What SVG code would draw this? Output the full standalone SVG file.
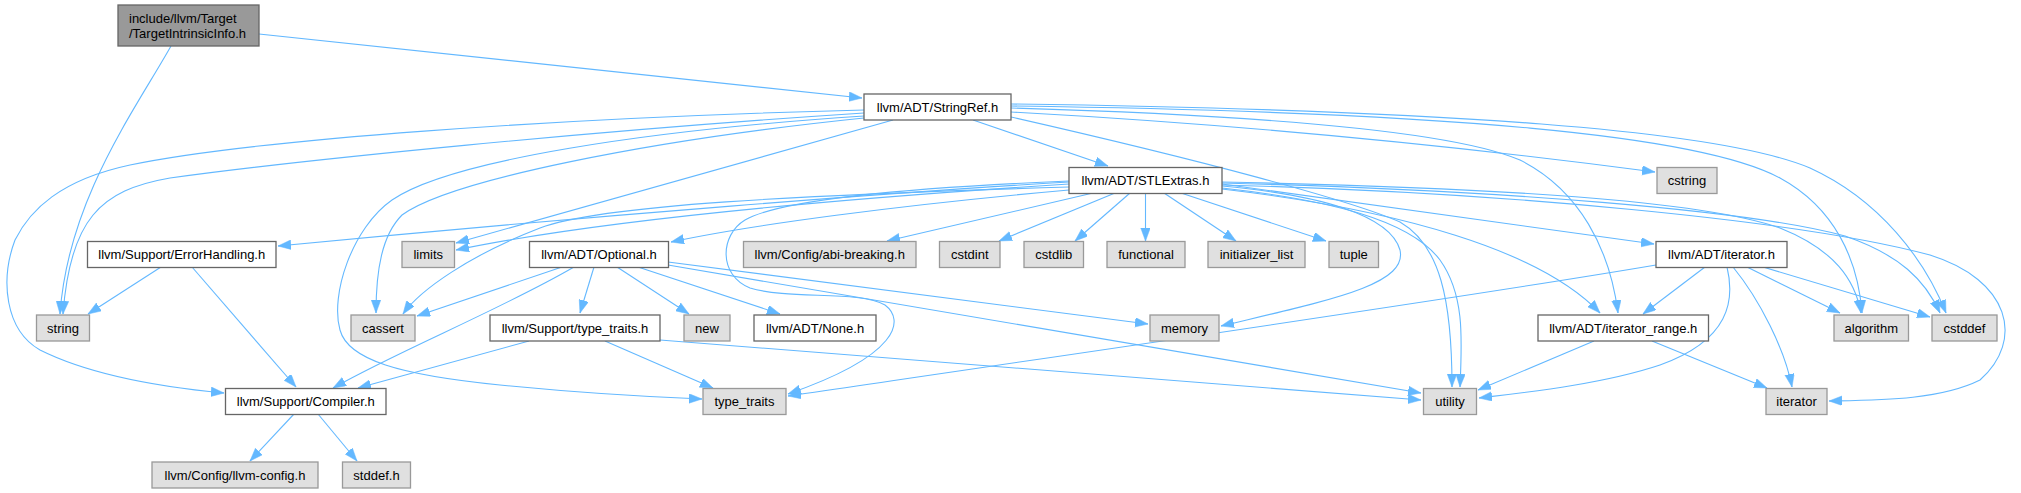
<svg xmlns="http://www.w3.org/2000/svg" width="2021" height="493" viewBox="0 0 2021 493">
<style>
.e{fill:none;stroke:#63b8ff;stroke-width:1.1;marker-end:url(#ah)}
.n rect{stroke-width:1.3}
.w rect{fill:#ffffff;stroke:#666666}
.g rect{fill:#e0e0e0;stroke:#999999}
.r rect{fill:#999999;stroke:#666666}
text{font-family:"Liberation Sans",Arial,Helvetica,sans-serif;font-size:13px;fill:#000000}
.c{text-anchor:middle}
</style>
<defs>
<marker id="ah" markerUnits="userSpaceOnUse" markerWidth="13" markerHeight="10" refX="13" refY="4.75" orient="auto">
<path d="M0,0 L13,4.75 L0,9.5 z" fill="#63b8ff" stroke="#63b8ff" stroke-width="0.5"/>
</marker>
</defs>
<rect width="2021" height="493" fill="#ffffff"/>
<g id="edges">
<path class="e" d="M259,34 L862,98"/>
<path class="e" d="M171,46 C135,110 68,200 60,314"/>
<path class="e" d="M864,113 C600,130 300,160 170,178 C100,190 70,220 63,314"/>
<path class="e" d="M864,110 C550,118 250,140 130,165 C60,180 30,210 15,240 C0,280 5,330 40,350 C90,375 160,387 224,393"/>
<path class="e" d="M864,116 C650,130 450,160 392,200 C352,228 330,295 340,330 C348,360 400,375 500,385 C580,393 650,397 702,399"/>
<path class="e" d="M864,118 C650,140 450,180 402,215 C382,235 376,270 376,313"/>
<path class="e" d="M893,120 L456,243"/>
<path class="e" d="M973,120 L1108,166"/>
<path class="e" d="M1011,112 C1250,125 1450,145 1655,172"/>
<path class="e" d="M1011,108 C1250,115 1450,130 1520,160 C1580,190 1610,250 1618,313"/>
<path class="e" d="M1011,117 C1200,160 1350,200 1400,222 C1440,245 1452,300 1452,387"/>
<path class="e" d="M1011,106 C1450,112 1700,135 1780,178 C1835,208 1858,260 1862,313"/>
<path class="e" d="M1011,104 C1450,110 1720,130 1810,168 C1880,200 1925,260 1946,313"/>
<path class="e" d="M1069,182 C900,192 600,215 278,246"/>
<path class="e" d="M1069,184 C850,198 600,220 456,250"/>
<path class="e" d="M1069,187 C800,195 600,205 540,228 C470,255 420,290 403,314"/>
<path class="e" d="M1069,190 C900,205 750,225 671,242"/>
<path class="e" d="M1093,193 L887,241"/>
<path class="e" d="M1115,193 L999,241"/>
<path class="e" d="M1130,193 L1075,241"/>
<path class="e" d="M1145.5,193 L1145.5,241"/>
<path class="e" d="M1164,193 L1236,241"/>
<path class="e" d="M1181,193 L1326,241"/>
<path class="e" d="M1069,181 C900,188 780,200 745,220 C720,235 718,275 750,288 C790,300 860,290 885,305 C905,320 900,355 788,394"/>
<path class="e" d="M1222,186 C1320,195 1390,215 1400,250 C1408,285 1330,300 1221,326"/>
<path class="e" d="M1222,188 C1330,200 1410,220 1440,260 C1465,295 1462,340 1460,387"/>
<path class="e" d="M1222,184 L1654,244"/>
<path class="e" d="M1222,189 C1400,210 1540,250 1600,313"/>
<path class="e" d="M1222,182 C1500,188 1700,200 1780,228 C1835,250 1855,280 1861,313"/>
<path class="e" d="M1222,183 C1500,190 1750,210 1845,236 C1900,255 1925,280 1940,313"/>
<path class="e" d="M1222,185 C1500,192 1800,220 1930,255 C2010,280 2025,340 1980,380 C1940,400 1880,400 1829,401"/>
<path class="e" d="M562,267 L417,316"/>
<path class="e" d="M574,267 C500,310 400,350 333,388"/>
<path class="e" d="M594,267 L580,313"/>
<path class="e" d="M617,267 L689,314"/>
<path class="e" d="M638,267 L780,314"/>
<path class="e" d="M668,262 L1148,324"/>
<path class="e" d="M668,265 L1421,393"/>
<path class="e" d="M529,341 L358,388"/>
<path class="e" d="M605,341 L713,388"/>
<path class="e" d="M660,340 L1421,400"/>
<path class="e" d="M161,267 L88,314"/>
<path class="e" d="M192,267 L296,387"/>
<path class="e" d="M294,414 L250,461"/>
<path class="e" d="M318,414 L357,461"/>
<path class="e" d="M1656,265 C1450,300 1100,350 788,396"/>
<path class="e" d="M1705,267 L1643,314"/>
<path class="e" d="M1727,267 C1735,300 1730,340 1660,365 C1600,385 1520,393 1479,398"/>
<path class="e" d="M1733,267 C1760,300 1785,350 1792,387"/>
<path class="e" d="M1747,267 L1840,313"/>
<path class="e" d="M1763,267 L1930,317"/>
<path class="e" d="M1594,341 L1478,390"/>
<path class="e" d="M1652,341 L1767,388"/>
</g>
<g id="n_tii" class="n r"><rect x="118" y="5" width="141" height="41"/><text x="129" y="23">include/llvm/Target</text><text x="129" y="38">/TargetIntrinsicInfo.h</text></g>
<g id="n_stringref" class="n w"><rect x="864" y="94" width="147" height="26"/><text class="c" x="937.5" y="111.8">llvm/ADT/StringRef.h</text></g>
<g id="n_stlextras" class="n w"><rect x="1069" y="167.5" width="153" height="26"/><text class="c" x="1145.5" y="185.3">llvm/ADT/STLExtras.h</text></g>
<g id="n_cstring" class="n g"><rect x="1657" y="167.5" width="60" height="26"/><text class="c" x="1687" y="185.3">cstring</text></g>
<g id="n_errorhandling" class="n w"><rect x="87.5" y="241.5" width="188.5" height="26"/><text class="c" x="181.75" y="259.3">llvm/Support/ErrorHandling.h</text></g>
<g id="n_limits" class="n g"><rect x="402" y="241.5" width="52.5" height="26"/><text class="c" x="428.25" y="259.3">limits</text></g>
<g id="n_optional" class="n w"><rect x="529.5" y="241.5" width="139" height="26"/><text class="c" x="599" y="259.3">llvm/ADT/Optional.h</text></g>
<g id="n_abibreaking" class="n g"><rect x="743.5" y="241.5" width="172.5" height="26"/><text class="c" x="829.75" y="259.3">llvm/Config/abi-breaking.h</text></g>
<g id="n_cstdint" class="n g"><rect x="939.5" y="241.5" width="60.5" height="26"/><text class="c" x="969.75" y="259.3">cstdint</text></g>
<g id="n_cstdlib" class="n g"><rect x="1024" y="241.5" width="59.5" height="26"/><text class="c" x="1053.75" y="259.3">cstdlib</text></g>
<g id="n_functional" class="n g"><rect x="1107" y="241.5" width="78" height="26"/><text class="c" x="1146" y="259.3">functional</text></g>
<g id="n_initlist" class="n g"><rect x="1208" y="241.5" width="97" height="26"/><text class="c" x="1256.5" y="259.3">initializer_list</text></g>
<g id="n_tuple" class="n g"><rect x="1329" y="241.5" width="49.5" height="26"/><text class="c" x="1353.75" y="259.3">tuple</text></g>
<g id="n_iteratorh" class="n w"><rect x="1656" y="241.5" width="131" height="26"/><text class="c" x="1721.5" y="259.3">llvm/ADT/iterator.h</text></g>
<g id="n_string" class="n g"><rect x="36.5" y="315" width="53" height="26"/><text class="c" x="63" y="332.8">string</text></g>
<g id="n_cassert" class="n g"><rect x="351" y="315" width="64" height="26"/><text class="c" x="383" y="332.8">cassert</text></g>
<g id="n_supporttypetraits" class="n w"><rect x="490" y="315" width="170" height="26"/><text class="c" x="575" y="332.8">llvm/Support/type_traits.h</text></g>
<g id="n_new" class="n g"><rect x="684" y="315" width="46" height="26"/><text class="c" x="707" y="332.8">new</text></g>
<g id="n_none" class="n w"><rect x="754" y="315" width="122" height="26"/><text class="c" x="815" y="332.8">llvm/ADT/None.h</text></g>
<g id="n_memory" class="n g"><rect x="1150" y="315" width="69" height="26"/><text class="c" x="1184.5" y="332.8">memory</text></g>
<g id="n_iteratorrange" class="n w"><rect x="1538" y="315" width="170.5" height="26"/><text class="c" x="1623.25" y="332.8">llvm/ADT/iterator_range.h</text></g>
<g id="n_algorithm" class="n g"><rect x="1834" y="315" width="74.5" height="26"/><text class="c" x="1871.25" y="332.8">algorithm</text></g>
<g id="n_cstddef" class="n g"><rect x="1932" y="315" width="65" height="26"/><text class="c" x="1964.5" y="332.8">cstddef</text></g>
<g id="n_compiler" class="n w"><rect x="225.5" y="388.5" width="160.5" height="26"/><text class="c" x="305.75" y="406.3">llvm/Support/Compiler.h</text></g>
<g id="n_typetraits" class="n g"><rect x="703" y="388.5" width="83" height="26"/><text class="c" x="744.5" y="406.3">type_traits</text></g>
<g id="n_utility" class="n g"><rect x="1423.5" y="388.5" width="53" height="26"/><text class="c" x="1450" y="406.3">utility</text></g>
<g id="n_iterator" class="n g"><rect x="1766" y="388.5" width="61" height="26"/><text class="c" x="1796.5" y="406.3">iterator</text></g>
<g id="n_llvmconfig" class="n g"><rect x="152" y="462" width="166" height="26"/><text class="c" x="235" y="479.8">llvm/Config/llvm-config.h</text></g>
<g id="n_stddef" class="n g"><rect x="342.5" y="462" width="68" height="26"/><text class="c" x="376.5" y="479.8">stddef.h</text></g>
</svg>
